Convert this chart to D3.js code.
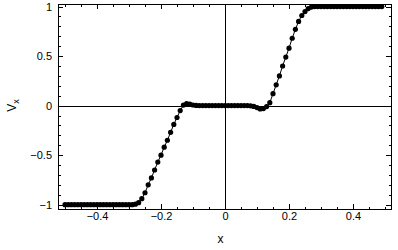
<!DOCTYPE html>
<html>
<head>
<meta charset="utf-8">
<script src="https://cdn.jsdelivr.net/npm/d3@7"></script>
<style>
  body { margin: 0; background: #fff; }
  svg { display: block; font-family: "Liberation Sans", Arial, sans-serif; }
  .tick text { font-size: 11px; fill: #000; }
</style>
</head>
<body>
<div id="chart"></div>
<script>
// x positions of the samples
const xs = [
  -0.50, -0.49, -0.48, -0.47, -0.46, -0.45, -0.44, -0.43, -0.42, -0.41,
  -0.40, -0.39, -0.38, -0.37, -0.36, -0.35, -0.34, -0.33, -0.32, -0.31,
  -0.30, -0.29, -0.28, -0.27, -0.26, -0.25, -0.24, -0.23, -0.22, -0.21,
  -0.20, -0.19, -0.18, -0.17, -0.16, -0.15, -0.14, -0.13, -0.12, -0.11,
  -0.10, -0.09, -0.08, -0.07, -0.06, -0.05, -0.04, -0.03, -0.02, -0.01,
   0.00,  0.01,  0.02,  0.03,  0.04,  0.05,  0.06,  0.07,  0.08,  0.09,
   0.10,  0.11,  0.12,  0.13,  0.14,  0.15,  0.16,  0.17,  0.18,  0.19,
   0.20,  0.21,  0.22,  0.23,  0.24,  0.25,  0.26,  0.27,  0.28,  0.29,
   0.30,  0.31,  0.32,  0.33,  0.34,  0.35,  0.36,  0.37,  0.38,  0.39,
   0.40,  0.41,  0.42,  0.43,  0.44,  0.45,  0.46,  0.47,  0.48,  0.49
];

// V_x
const vx = [
  -1, -1, -1, -1, -1, -1, -1, -1, -1, -1,
  -1, -1, -1, -1, -1, -1, -1, -1, -1, -1,
  -1, -1, -0.995, -0.98, -0.94, -0.88, -0.80, -0.73, -0.65, -0.57,
  -0.50, -0.42, -0.35, -0.27, -0.19, -0.12, -0.05, 0.005, 0.02, 0.015,
  0.006, 0.002, 0, 0, 0, 0, 0, 0, 0, 0,
  0, 0, 0, 0, 0, 0, 0, 0, -0.002, -0.008,
  -0.02, -0.033, -0.03, -0.01, 0.03, 0.12, 0.21, 0.30, 0.40, 0.49,
  0.58, 0.68, 0.77, 0.85, 0.91, 0.95, 0.98, 0.995, 1, 1,
  1, 1, 1, 1, 1, 1, 1, 1, 1, 1,
  1, 1, 1, 1, 1, 1, 1, 1, 1, 1
];

const xMajor = [-0.4, -0.2, 0, 0.2, 0.4];
const xMinor = [-0.5, -0.45, -0.35, -0.3, -0.25, -0.15, -0.1, -0.05, 0.05, 0.1, 0.15, 0.25, 0.3, 0.35, 0.45, 0.5];
const yMajor = [-1, -0.5, 0, 0.5, 1];
const yMinor = [-0.9, -0.8, -0.7, -0.6, -0.4, -0.3, -0.2, -0.1, 0.1, 0.2, 0.3, 0.4, 0.6, 0.7, 0.8, 0.9];

const width = 398, height = 250;
const mLeft = 58, mRight = 391, mTop = 4, mBottom = 209;

const x = d3.scaleLinear().domain([-0.521875, 0.51875]).range([mLeft, mRight]);
const y = d3.scaleLinear().domain([-1.044, 1.026]).range([mBottom, mTop]);

// tick labels with a real minus sign
const fmt = d => String(d).replace("-", "\u2212");

const svg = d3.select("#chart").append("svg")
  .attr("width", width)
  .attr("height", height);

// major + minor ticks on all four sides
function ticks(axisFn, scale, values, size, labels, pad) {
  return axisFn(scale)
    .tickValues(values)
    .tickSizeInner(-size)
    .tickSizeOuter(0)
    .tickPadding(pad)
    .tickFormat(labels ? fmt : "");
}

const gBottom = svg.append("g").attr("transform", `translate(0,${mBottom})`);
gBottom.append("g").call(ticks(d3.axisBottom, x, xMajor, 5, true, 3));
gBottom.append("g").call(ticks(d3.axisBottom, x, xMinor, 2.5, false, 0));

const gTop = svg.append("g").attr("transform", `translate(0,${mTop})`);
gTop.append("g").call(ticks(d3.axisTop, x, xMajor, 5, false, 0));
gTop.append("g").call(ticks(d3.axisTop, x, xMinor, 2.5, false, 0));

const gLeft = svg.append("g").attr("transform", `translate(${mLeft},0)`);
gLeft.append("g").call(ticks(d3.axisLeft, y, yMajor, 5, true, 6));
gLeft.append("g").call(ticks(d3.axisLeft, y, yMinor, 2.5, false, 0));

const gRight = svg.append("g").attr("transform", `translate(${mRight},0)`);
gRight.append("g").call(ticks(d3.axisRight, y, yMajor, 5, false, 0));
gRight.append("g").call(ticks(d3.axisRight, y, yMinor, 2.5, false, 0));

svg.selectAll(".domain").remove();
svg.selectAll(".tick line").attr("stroke", "#000").attr("shape-rendering", "crispEdges");

// frame
svg.append("rect")
  .attr("x", mLeft + 0.5).attr("y", mTop + 0.5)
  .attr("width", mRight - mLeft).attr("height", mBottom - mTop)
  .attr("fill", "none").attr("stroke", "#000")
  .attr("shape-rendering", "crispEdges");

// axes through the origin
svg.append("line")
  .attr("x1", mLeft).attr("x2", mRight)
  .attr("y1", Math.round(y(0)) + 0.5).attr("y2", Math.round(y(0)) + 0.5)
  .attr("stroke", "#000");
svg.append("line")
  .attr("x1", Math.round(x(0)) + 0.5).attr("x2", Math.round(x(0)) + 0.5)
  .attr("y1", mTop).attr("y2", mBottom)
  .attr("stroke", "#000");

// joined line + dots
const pts = xs.map((d, i) => [d, vx[i]]);
svg.append("path")
  .datum(pts)
  .attr("fill", "none")
  .attr("stroke", "#000")
  .attr("stroke-width", 1)
  .attr("d", d3.line().x(d => x(d[0])).y(d => y(d[1])));

svg.selectAll(".dot")
  .data(pts)
  .join("circle")
  .attr("class", "dot")
  .attr("cx", d => x(d[0]))
  .attr("cy", d => y(d[1]))
  .attr("r", 2.6)
  .attr("fill", "#000");

// axis labels
svg.append("text")
  .attr("x", (mLeft + mRight) / 2 - 4)
  .attr("y", 243)
  .attr("text-anchor", "middle")
  .attr("font-size", 12)
  .text("x");

const vLabel = svg.append("text")
  .attr("transform", `translate(16,${y(0)}) rotate(-90)`)
  .attr("text-anchor", "middle")
  .attr("font-size", 12);
vLabel.append("tspan").text("V");
vLabel.append("tspan").attr("font-size", 9).attr("dy", 3).text("x");
</script>
</body>
</html>
